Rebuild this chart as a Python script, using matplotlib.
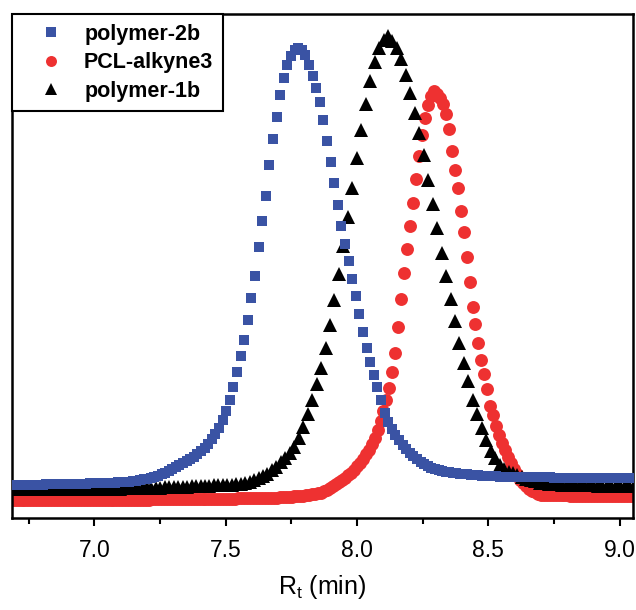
import numpy as np
import matplotlib
matplotlib.use('Agg')
import matplotlib.pyplot as plt
from matplotlib.ticker import MultipleLocator

plt.rcParams['font.family'] = ['Liberation Sans', 'DejaVu Sans']
plt.rcParams['mathtext.fontset'] = 'custom'
plt.rcParams['mathtext.rm'] = 'Liberation Sans'
plt.rcParams['mathtext.it'] = 'Liberation Sans:italic'

# ---- data (retention time sampling + detector signal, arbitrary units) ----
labels = ['polymer-2b', 'PCL-alkyne3', 'polymer-1b']

blue_t0, blue_dt = 6.680, 0.0137
blue_y = [33.0, 33.0, 33.1, 33.1, 33.2, 33.3, 33.3, 33.4, 33.5, 33.5, 33.6, 33.7, 33.7, 33.8, 33.9, 33.9,
          34.0, 34.1, 34.2, 34.3, 34.3, 34.4,
          34.6, 34.7, 34.8, 35.0, 35.1, 35.2, 35.4, 35.5, 35.7, 36.0, 36.2,
          36.4, 36.9, 37.4, 37.9, 38.7, 39.5, 40.3, 41.2, 42.3, 43.6, 45.2, 46.9, 48.8, 50.7, 52.8, 54.8, 57.0,
          59.2, 61.5, 64.3, 67.2, 70.5, 74.4, 78.8, 84.4, 90.5, 98.5, 107, 118,
          131, 146, 162, 178, 198, 220, 242, 271, 297, 322, 353, 379, 401, 423, 440, 453, 462, 468,
          470,
          468, 463, 453, 442, 430, 416, 398, 377, 356, 335, 313, 292, 274, 257, 239, 222, 204, 186, 170, 156,
          143, 131, 118, 105,
          96, 89, 83, 78, 73, 69, 65, 62, 59, 56.5, 54, 52, 50.5, 49, 48, 47, 46.5, 46, 45.5, 45, 44.5, 44,
          43.7, 43.4, 43, 42.8, 42.5, 42.3,
          42.0, 41.8, 41.6, 41.5, 41.4, 41.3, 41.2, 41.1, 41.0, 41.0, 40.9, 40.9, 40.8, 40.8, 40.7, 40.7,
          40.6, 40.6, 40.5, 40.5, 40.5, 40.4, 40.4, 40.4, 40.3, 40.3, 40.3, 40.2, 40.2, 40.2, 40.1, 40.1,
          40.1, 40.0, 40.0, 40.0, 40.0, 40.0, 40.0, 40.0, 40.0]

red_t0, red_dt = 6.677, 0.0113
red_y = [18.0, 18.0, 18.0, 18.0, 18.0, 18.0, 18.0, 18.0, 18.0, 18.0, 18.0, 18.0, 18.0, 18.0, 18.0, 18.0,
         18.1, 18.1, 18.1, 18.1, 18.1, 18.1, 18.1, 18.2, 18.2, 18.2, 18.2, 18.2, 18.2, 18.2,
         18.3, 18.3, 18.3, 18.3, 18.3, 18.3, 18.4, 18.4, 18.4, 18.4, 18.4, 18.5, 18.5, 18.5, 18.5, 18.5,
         18.5, 18.5, 18.6, 18.6, 18.6, 18.6, 18.7, 18.7, 18.7, 18.7, 18.8, 18.8, 18.8, 18.9, 18.9, 18.9,
         19.0, 19.0,
         19.0, 19.0, 19.1, 19.1, 19.2, 19.2, 19.3, 19.3, 19.4, 19.4, 19.4, 19.5, 19.5, 19.6, 19.6, 19.7,
         19.7, 19.8,
         19.8, 19.9, 20.0, 20.1, 20.1, 20.2, 20.3, 20.4, 20.5, 20.6, 20.8, 21.0, 21.2, 21.4, 21.6, 21.8,
         22.1, 22.5, 22.9, 23.4, 23.8, 24.3, 24.7, 25.5, 26.8, 28.2, 30.1, 32.0, 33.9, 35.9, 38.0, 40.2,
         42.6, 45.5, 48.5, 51.8, 55.2, 59.4, 63.6, 68.5, 73.9, 80.2, 87.7, 96.9, 107.4, 118.3, 130.3,
         145.9, 165.2, 191.4, 218.9, 245.1, 268.6, 291.7, 315.3, 339.2, 362.1, 382.6, 400.5, 412.9, 421.7,
         427,
         424.3, 420.1, 414.1, 403.8, 388.8, 367.4, 348.5, 330.2, 306.9, 285.7, 261.5, 236.5, 211.5, 194,
         175.2, 157.8, 143.6, 129.5, 112.4, 103.4, 91.9, 82.6, 74.7, 67.6, 61.3, 55.3, 49.4, 43.8, 38.1,
         35.1, 32.1, 29.2, 27.2, 25.9, 24.5, 23.5,
         23.4, 23.3, 23.2, 23.1, 23.0, 22.9, 22.8, 22.7, 22.6, 22.5, 22.5, 22.4, 22.4, 22.4, 22.3, 22.3,
         22.3, 22.3, 22.2, 22.2, 22.2, 22.2, 22.1, 22.1, 22.1, 22.1, 22.0, 22.0, 22.0, 22.0, 22.0]

black_t0, black_dt = 6.673, 0.0170
black_y = [29.0, 29.0, 28.9, 28.9, 29.0, 29.0, 29.1, 29.0, 29.0, 28.9, 28.9, 29.0, 29.0, 29.0, 29.1, 29.1,
           29.0, 29.0, 29.0, 29.0,
           29.1, 29.2, 29.2, 29.3, 29.4, 29.5, 29.6, 29.7, 29.7, 29.8, 29.9, 30.0, 30.2, 30.3, 30.5, 30.7,
           30.9, 31.0, 31.2, 31.4, 31.5, 31.7, 31.9, 32.0, 32.2, 32.4, 32.6, 32.7, 32.9, 33.1, 33.5, 33.9,
           34.3, 35.1, 36.3, 38.0, 40.1, 42.2, 44.3, 48.0, 51.5, 55.8, 60.5, 65.3, 71.2, 79.6, 90.7, 103.6,
           118.1, 133.7, 150.5, 170, 193, 218, 244, 271.6, 300.8, 330.5, 360.3, 388.4, 413.9, 437, 456.3,
           470, 478.2,
           482,
           477.4, 470, 458.8, 443.4, 424.6, 405, 385.5, 363.1, 338.5, 314.2, 290.5, 265.3, 242.4, 219.4,
           197.1, 175.5, 155.3, 136.6, 118.2, 103.7, 90, 77.6, 67.5, 59.6, 53.3, 49, 46.5, 44.6, 42.9,
           41.2, 39.5, 38.0, 36.7, 35.3, 34.7, 34.4, 34.1, 33.7, 33.4, 33.0,
           32.9, 32.9, 32.8, 32.7, 32.7, 32.6, 32.5, 32.5, 32.4, 32.3, 32.3, 32.2, 32.1, 32.1, 32.0]

xticks = [7.0, 7.5, 8.0, 8.5, 9.0]
xtick_labels = ['7.0', '7.5', '8.0', '8.5', '9.0']

BLUE = '#3A53A4'
RED = '#EE3131'
BLACK = '#000000'

blue_x = blue_t0 + blue_dt * np.arange(len(blue_y))
red_x = red_t0 + red_dt * np.arange(len(red_y))
black_x = black_t0 + black_dt * np.arange(len(black_y))

fig = plt.figure(figsize=(6.36, 6.10), dpi=100)
ax = fig.add_axes([12 / 636, 92 / 610, 621 / 636, 504 / 610])

h_red, = ax.plot(red_x, red_y, ls='none', marker='o', ms=9.3, mew=0, color=RED, zorder=2)
h_black, = ax.plot(black_x, black_y, ls='none', marker='^', ms=10.3, mew=0, color=BLACK, zorder=3)
h_blue, = ax.plot(blue_x, blue_y, ls='none', marker='s', ms=7.8, mew=0, color=BLUE, zorder=4)

ax.set_xlim(6.686, 9.051)
ax.set_ylim(0, 504)
ax.set_yticks([])
ax.set_xticks(xticks)
ax.set_xticklabels(xtick_labels)
ax.xaxis.set_minor_locator(MultipleLocator(0.25))
ax.tick_params(axis='x', which='major', direction='out', length=6, width=1.5, labelsize=16.5, pad=9)
ax.tick_params(axis='x', which='minor', direction='out', length=4, width=1.5)
for s in ax.spines.values():
    s.set_linewidth(1.8)
    s.set_color('black')

ax.set_xlabel(r'R$_\mathrm{t}$ (min)', fontsize=18, labelpad=8)

leg = ax.legend([h_blue, h_red, h_black], labels, loc='upper left', borderaxespad=0,
                prop={'weight': 'bold', 'size': 15.5}, frameon=True, fancybox=False,
                edgecolor='black', framealpha=1, handlelength=2.7, handletextpad=0.2,
                borderpad=0.45, labelspacing=0.35, markerscale=0.85)
leg.get_frame().set_linewidth(1.5)
leg.set_zorder(10)

fig.savefig('out.png', dpi=100)
